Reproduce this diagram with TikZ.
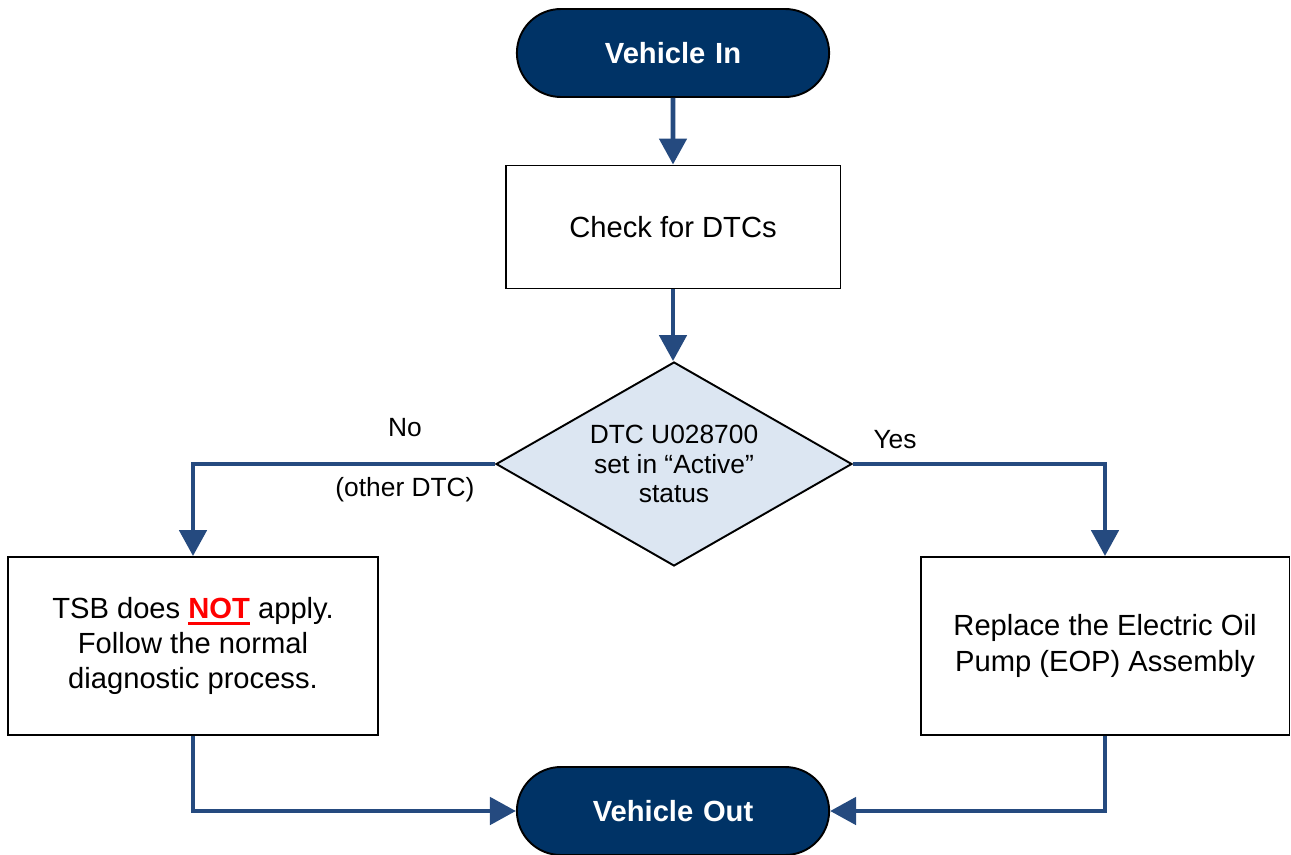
\documentclass[tikz,border=0pt]{standalone}
\usepackage{fontspec}
\setmainfont{Liberation Sans}
\usetikzlibrary{shapes.geometric,shapes.misc,arrows.meta}

\definecolor{navy}{HTML}{003366}
\definecolor{flowblue}{HTML}{254A7F}
\definecolor{pale}{HTML}{DCE6F2}

\newsavebox\ulbox
\newcommand\thickul[1]{\sbox\ulbox{#1}\leavevmode\rlap{\rule[-3.6pt]{\wd\ulbox}{1.7pt}}\usebox\ulbox}

\tikzset{
  terminal/.style={rounded rectangle,draw=black,line width=1.1pt,fill=navy,text=white,
    font=\fontsize{16.6}{20}\selectfont\bfseries,minimum width=6.48cm,minimum height=1.76cm,
    rounded rectangle arc length=180,text width=4.4cm,align=center},
  stepbox/.style={rectangle,draw=black,line width=1.1pt,fill=white,align=center,
    font=\fontsize{16.6}{20}\selectfont},
  decision/.style={diamond,draw=black,line width=1.1pt,fill=pale,align=center,inner sep=0pt,
    aspect=1.745,font=\fontsize{15}{17}\selectfont,minimum width=7.12cm,minimum height=4.08cm},
  flow/.style={draw=flowblue,line width=2.8pt,-{Triangle[length=5.2mm,width=5.4mm]}},
  lbl/.style={font=\fontsize{15}{17}\selectfont}
}

\begin{document}
\begin{tikzpicture}[x=0.02cm,y=-0.02cm]
  \useasboundingbox (0,0) rectangle (1291,855);

  % Nodes
  \node[terminal] (vin) at (673,53) {Vehicle In};
  \node[stepbox,minimum width=6.7cm,minimum height=2.46cm] (chk) at (673,227) {Check for DTCs};
  \node[decision] (dtc) at (674,464) {DTC U028700\\set in “Active”\\status};
  \node[stepbox,minimum width=7.4cm,minimum height=3.56cm] (tsb) at (193,646)
    {TSB does {\color{red}\bfseries\thickul{NOT}} apply.\\Follow the normal\\diagnostic process.};
  \node[stepbox,minimum width=7.38cm,minimum height=3.56cm] (eop) at (1105,646)
    {Replace the Electric Oil\\Pump (EOP) Assembly};
  \node[terminal] (vout) at (673,811) {Vehicle Out};

  % Labels
  \node[lbl] (no) at (405,428) {No};
  \node[lbl] (other) at (405,490) {(other DTC)};
  \node[lbl] (yes) at (895,440) {Yes};

  % Connectors
  \draw[flow] (vin) -- (chk);
  \draw[flow] (chk.south) -- (chk.south |- dtc.north);
  \draw[flow] (dtc.west) -| (tsb.north);
  \draw[flow] (dtc.east) -| (eop.north);
  \draw[flow] (tsb.south) |- (vout.west);
  \draw[flow] (eop.south) |- (vout.east);
\end{tikzpicture}
\end{document}
